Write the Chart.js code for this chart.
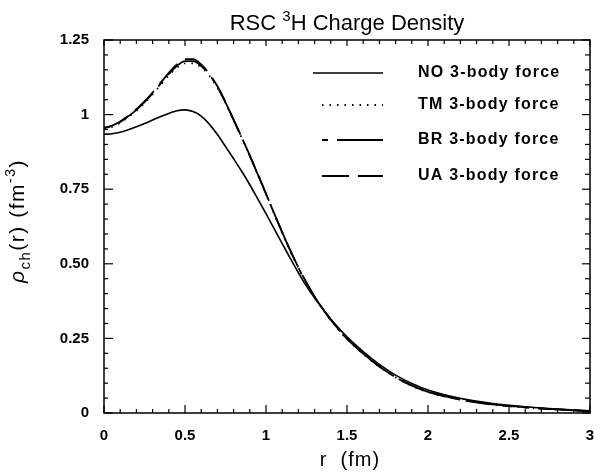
<!DOCTYPE html>
<html><head><meta charset="utf-8">
<script src="https://cdn.jsdelivr.net/npm/chart.js@4/dist/chart.umd.min.js"></script>
<style>html,body{margin:0;padding:0;background:#fff;}canvas{display:block;}</style>
</head><body>
<canvas id="c" width="601" height="473"></canvas>
<script>
// ---- data ----
const rValues = [0,0.05,0.1,0.15,0.2,0.25,0.3,0.35,0.4,0.45,0.5,0.55,0.6,0.65,0.7,0.75,0.8,0.85,0.9,0.95,1.0,1.05,1.1,1.15,1.2,1.25,1.3,1.35,1.4,1.45,1.5,1.6,1.7,1.8,1.9,2.0,2.2,2.4,2.6,2.8,3.0];
const noForce = [0.934,0.936,0.941,0.949,0.959,0.970,0.982,0.994,1.004,1.013,1.016,1.010,0.995,0.968,0.933,0.893,0.852,0.810,0.765,0.717,0.668,0.618,0.568,0.518,0.470,0.425,0.385,0.349,0.315,0.284,0.255,0.206,0.163,0.127,0.099,0.077,0.049,0.032,0.021,0.013,0.007];
const tmForce = [0.952,0.959,0.973,0.992,1.013,1.039,1.068,1.100,1.131,1.157,1.172,1.172,1.158,1.130,1.090,1.039,0.981,0.922,0.861,0.798,0.733,0.668,0.604,0.543,0.486,0.436,0.389,0.348,0.311,0.278,0.248,0.198,0.155,0.119,0.091,0.070,0.044,0.028,0.018,0.011,0.006];
const brForce = [0.954,0.961,0.975,0.994,1.016,1.042,1.071,1.104,1.136,1.163,1.179,1.179,1.163,1.134,1.093,1.041,0.982,0.923,0.862,0.799,0.734,0.669,0.605,0.544,0.487,0.436,0.390,0.349,0.312,0.279,0.249,0.199,0.156,0.120,0.092,0.071,0.045,0.029,0.019,0.012,0.006];
const uaForce = [0.956,0.963,0.977,0.996,1.018,1.044,1.074,1.107,1.140,1.168,1.186,1.186,1.168,1.137,1.095,1.042,0.983,0.924,0.863,0.800,0.735,0.670,0.606,0.545,0.488,0.437,0.390,0.349,0.312,0.279,0.249,0.199,0.156,0.120,0.092,0.071,0.045,0.029,0.019,0.012,0.006];
const seriesLabels = ['NO 3-body force','TM 3-body force','BR 3-body force','UA 3-body force'];
const xTickValues = [0,0.5,1,1.5,2,2.5,3];
const xTickLabels = ['0','0.5','1','1.5','2','2.5','3'];
const yTickValues = [0,0.25,0.5,0.75,1,1.25];
const yTickLabels = ['0','0.25','0.50','0.75','1','1.25'];

const FONT = '"Liberation Sans", Arial, Helvetica, sans-serif';
const pts = arr => rValues.map((r,i)=>({x:r,y:arr[i]}));
const seriesData = [noForce, tmForce, brForce, uaForce];
const dashes = [[], [1.5,6], [6,9,46,9], [27,9]];
const widths = [1.6, 1.8, 1.8, 1.8];

const decor = {
  id:'decor',
  afterDatasetsDraw(chart){
    const {ctx, chartArea:a, scales:{x,y}} = chart;
    ctx.save();
    ctx.strokeStyle='#000'; ctx.fillStyle='#000';
    ctx.setLineDash([]);
    ctx.lineWidth=1.5;
    ctx.strokeRect(a.left, a.top, a.right-a.left, a.bottom-a.top);
    ctx.lineWidth=1.2;
    const seg=(x1,y1,x2,y2)=>{ctx.beginPath();ctx.moveTo(x1,y1);ctx.lineTo(x2,y2);ctx.stroke();};
    for(let i=0;i<=30;i++){
      const px=x.getPixelForValue(i/10);
      const L=(i%5===0)?8:4;
      seg(px,a.bottom,px,a.bottom-L);
      seg(px,a.top,px,a.top+(i%5===0?6:4));
    }
    for(let i=0;i<=25;i++){
      const py=y.getPixelForValue(i/20);
      const L=(i%5===0)?9:4;
      seg(a.left,py,a.left+L,py);
      seg(a.right,py,a.right-(i%5===0?8:5),py);
    }
    // legend
    const rows=[73,105,140,176];
    chart.data.datasets.forEach((ds,i)=>{
      ctx.save();
      ctx.lineWidth=ds.borderWidth;
      ctx.setLineDash(ds.borderDash||[]);
      seg(i===0?313:322, rows[i], 383, rows[i]);
      ctx.restore();
      ctx.save();
      ctx.font='bold 16px '+FONT;
      ctx.letterSpacing='1.2px';
      ctx.textBaseline='middle';
      ctx.textAlign='left';
      ctx.fillText(ds.label, 418, rows[i]);
      ctx.restore();
    });
    // title
    ctx.textBaseline='alphabetic'; ctx.textAlign='left';
    const parts=[['RSC ',22,0],['3',15,-9],['H Charge Density',22,0]];
    let total=0;
    parts.forEach(p=>{ctx.font=p[1]+'px '+FONT; total+=ctx.measureText(p[0]).width;});
    let tx=(a.left+a.right)/2-total/2;
    parts.forEach(p=>{ctx.font=p[1]+'px '+FONT; ctx.fillText(p[0],tx,30+p[2]); tx+=ctx.measureText(p[0]).width;});
    // x title
    ctx.save();
    ctx.font='20px '+FONT; ctx.letterSpacing='1px'; ctx.textAlign='center';
    ctx.fillText('r  (fm)', (a.left+a.right)/2+3, 466);
    ctx.restore();
    // y title
    ctx.save();
    ctx.translate(24, 283);
    ctx.rotate(-Math.PI/2);
    ctx.letterSpacing='1.5px';
    const yparts=[['ρ','italic 21px',0],['ch','15px',6],['(r) (fm','21px',0],['-3','14px',-9],[')','21px',0]];
    let yx=0;
    yparts.forEach(p=>{ctx.font=p[1]+' '+FONT; ctx.fillText(p[0],yx,p[2]); yx+=ctx.measureText(p[0]).width;});
    ctx.restore();
    ctx.restore();
  }
};

new Chart(document.getElementById('c'), {
  type:'line',
  data:{
    datasets: seriesLabels.map((lab,i)=>({
      label:lab, data:pts(seriesData[i]), borderColor:'#000', backgroundColor:'#000',
      borderWidth:widths[i], borderDash:dashes[i], pointRadius:0, fill:false,
      cubicInterpolationMode:'monotone'
    }))
  },
  options:{
    responsive:false, devicePixelRatio:1, animation:false,
    layout:{padding:{left:0,right:11,top:40,bottom:0}},
    plugins:{legend:{display:false}, title:{display:false}, tooltip:{enabled:false}},
    scales:{
      x:{type:'linear', min:0, max:3,
        afterFit(s){s.height=60; s.paddingLeft=0; s.paddingRight=0;},
        afterBuildTicks(s){s.ticks=xTickValues.map(v=>({value:v}));},
        grid:{display:false, drawTicks:false}, border:{display:false},
        ticks:{padding:14, maxRotation:0, autoSkip:false, color:'#000',
          font:{family:FONT,size:15,weight:'bold'},
          callback:(v)=>{const k=xTickValues.findIndex(t=>Math.abs(t-v)<1e-6);return k>=0?xTickLabels[k]:'';}}
      },
      y:{type:'linear', min:0, max:1.25,
        afterFit(s){s.width=104; s.paddingTop=0; s.paddingBottom=0;},
        afterBuildTicks(s){s.ticks=yTickValues.map(v=>({value:v}));},
        grid:{display:false, drawTicks:false}, border:{display:false},
        ticks:{padding:15, autoSkip:false, color:'#000',
          font:{family:FONT,size:15,weight:'bold'},
          callback:(v)=>{const k=yTickValues.findIndex(t=>Math.abs(t-v)<1e-6);return k>=0?yTickLabels[k]:'';}}
      }
    }
  },
  plugins:[decor]
});
</script>
</body></html>
